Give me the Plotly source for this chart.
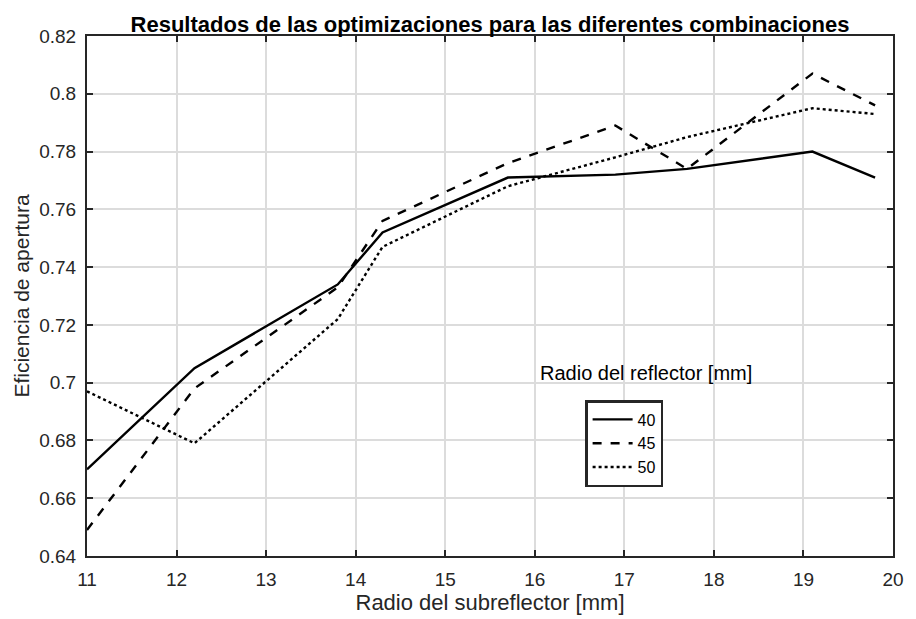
import plotly.graph_objects as go

# Subreflector radius [mm]
radio_sub = [11, 12.2, 13.8, 14.3, 15.7, 16.9, 17.7, 19.1, 19.8]

# Aperture efficiency per reflector radius
efic_40 = [0.670, 0.705, 0.734, 0.752, 0.771, 0.772, 0.774, 0.780, 0.771]
efic_45 = [0.649, 0.698, 0.733, 0.756, 0.776, 0.789, 0.774, 0.807, 0.796]
efic_50 = [0.697, 0.679, 0.722, 0.747, 0.768, 0.778, 0.785, 0.795, 0.793]

series = [("40", efic_40, "solid"), ("45", efic_45, "dash"), ("50", efic_50, "dot")]

x_ticks = list(range(11, 21))
y_ticks = [0.64, 0.66, 0.68, 0.70, 0.72, 0.74, 0.76, 0.78, 0.80, 0.82]
y_labels = ["0.64", "0.66", "0.68", "0.7", "0.72", "0.74", "0.76", "0.78", "0.8", "0.82"]

fig = go.Figure()
for name, vals, dash in series:
    fig.add_trace(go.Scatter(
        x=radio_sub, y=vals, mode="lines", name=name,
        line=dict(color="black", width=2.4, dash=dash),
    ))

font = "Liberation Sans, Arial, sans-serif"
axis_common = dict(
    showgrid=True, gridcolor="#dcdcdc", gridwidth=2,
    showline=True, linecolor="#262626", linewidth=2, mirror="ticks",
    ticks="inside", ticklen=6, tickwidth=2, tickcolor="#262626",
    zeroline=False, ticklabelstandoff=5, automargin=False,
    tickfont=dict(size=19, color="#262626", family=font),
)

fig.update_layout(
    width=916, height=619,
    margin=dict(l=87, r=23, t=36, b=63),
    paper_bgcolor="white", plot_bgcolor="white",
    font=dict(family=font, color="#262626"),
    title=dict(
        text="<b>Resultados de las optimizaciones para las diferentes combinaciones</b>",
        x=0.5, xref="paper", y=1, yref="paper", yanchor="bottom", pad=dict(b=4),
        font=dict(size=22, color="black", family=font),
    ),
    xaxis=dict(
        range=[11, 20], tickvals=x_ticks,
        title=dict(text="Radio del subreflector [mm]", font=dict(size=22, family=font), standoff=4),
        **axis_common,
    ),
    yaxis=dict(
        range=[0.64, 0.82], tickvals=y_ticks, ticktext=y_labels,
        title=dict(text="Eficiencia de apertura", font=dict(size=21, family=font), standoff=4),
        **axis_common,
    ),
    legend=dict(
        x=0.618, y=0.30, xanchor="left", yanchor="top",
        bordercolor="#262626", borderwidth=2.5, bgcolor="white",
        font=dict(size=16, color="black", family=font),
        itemwidth=40, tracegroupgap=0,
    ),
    annotations=[dict(
        text="Radio del reflector [mm]", x=0.560, y=0.352, xref="paper", yref="paper",
        xanchor="left", yanchor="middle", showarrow=False,
        font=dict(size=20, color="black", family=font),
    )],
)

fig.write_html("out.html")
